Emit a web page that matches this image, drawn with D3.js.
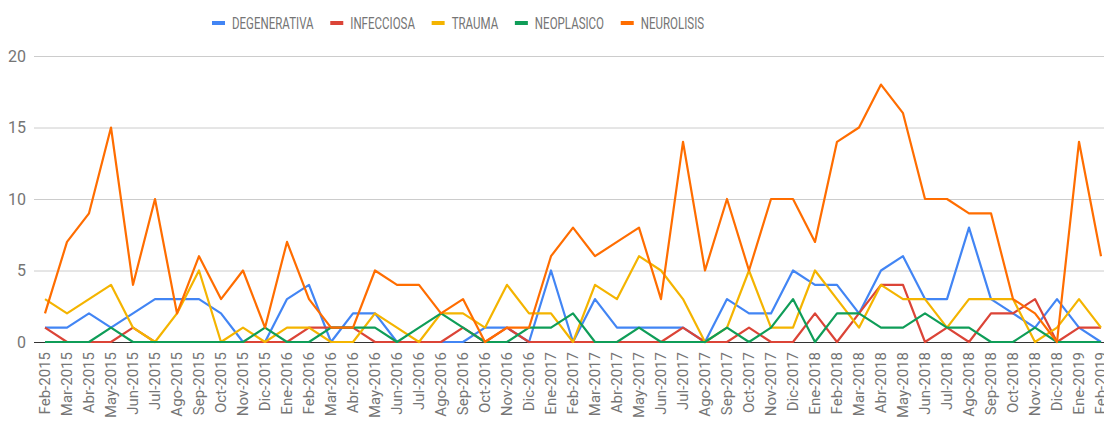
<!DOCTYPE html>
<html>
<head>
<meta charset="utf-8">
<script src="https://cdn.jsdelivr.net/npm/d3@7"></script>
<style>
  body { margin: 0; background: #fff; overflow: hidden; }
  text { font-family: Roboto, "Noto Sans", sans-serif; }
</style>
</head>
<body>
<script>
// month labels (x axis)
var months = ["Feb-2015","Mar-2015","Abr-2015","May-2015","Jun-2015","Jul-2015","Ago-2015","Sep-2015","Oct-2015","Nov-2015","Dic-2015",
  "Ene-2016","Feb-2016","Mar-2016","Abr-2016","May-2016","Jun-2016","Jul-2016","Ago-2016","Sep-2016","Oct-2016","Nov-2016","Dic-2016",
  "Ene-2017","Feb-2017","Mar-2017","Abr-2017","May-2017","Jun-2017","Jul-2017","Ago-2017","Sep-2017","Oct-2017","Nov-2017","Dic-2017",
  "Ene-2018","Feb-2018","Mar-2018","Abr-2018","May-2018","Jun-2018","Jul-2018","Ago-2018","Sep-2018","Oct-2018","Nov-2018","Dic-2018",
  "Ene-2019","Feb-2019"];

var degenerativa = [1,1,2,1,2,3,3,3,2,0,0, 3,4,0,2,2,0,0,0,0,1,1,0, 5,0,3,1,1,1,1,0,3,2,2,5, 4,4,2,5,6,3,3,8,3,2,1,3, 1,0];
var infecciosa   = [1,0,0,0,1,0,0,0,0,0,0, 0,1,1,1,0,0,0,0,1,0,1,0, 0,0,0,0,0,0,1,0,0,1,0,0, 2,0,2,4,4,0,1,0,2,2,3,0, 1,1];
var trauma       = [3,2,3,4,1,0,2,5,0,1,0, 1,1,0,0,2,1,0,2,2,1,4,2, 2,0,4,3,6,5,3,0,1,5,1,1, 5,3,1,4,3,3,1,3,3,3,0,1, 3,1];
var neoplasico   = [0,0,0,1,0,0,0,0,0,0,1, 0,0,1,1,1,0,1,2,1,0,0,1, 1,2,0,0,1,0,0,0,1,0,1,3, 0,2,2,1,1,2,1,1,0,0,1,0, 0,0];
var neurolisis   = [2,7,9,15,4,10,2,6,3,5,1, 7,3,1,1,5,4,4,2,3,0,1,1, 6,8,6,7,8,3,14,5,10,5,10,10, 7,14,15,18,16,10,10,9,9,3,2,0, 14,6];

var seriesNames = ["DEGENERATIVA", "INFECCIOSA", "TRAUMA", "NEOPLASICO", "NEUROLISIS"];
var seriesValues = [degenerativa, infecciosa, trauma, neoplasico, neurolisis];
var seriesColors = ["#4285F4", "#DB4437", "#F4B400", "#0F9D58", "#FF6D00"];
var yTicks = [0, 5, 10, 15, 20];

var width = 1104, height = 421;
var plotLeft = 34, plotTop = 56, plotBottom = 342;
var bandStep = 22;

var svg = d3.select("body").append("svg")
  .attr("width", width)
  .attr("height", height);

var x = d3.scaleBand()
  .domain(months)
  .range([plotLeft, plotLeft + bandStep * months.length])
  .padding(0);

var y = d3.scaleLinear()
  .domain([0, 20])
  .range([plotBottom, plotTop]);

function cx(m) { return x(m) + x.bandwidth() / 2; }

// gridlines + y labels
var yAxis = d3.axisLeft(y)
  .tickValues(yTicks)
  .tickSize(-(width - plotLeft + 20))
  .tickPadding(8);

var yG = svg.append("g")
  .attr("transform", "translate(" + plotLeft + ",0)")
  .call(yAxis);
yG.select(".domain").remove();
yG.selectAll(".tick line")
  .attr("stroke", "#cccccc")
  .attr("stroke-width", 1);
yG.selectAll(".tick text")
  .attr("fill", "#757575")
  .style("font-size", "16px")
  .attr("x", -8);

// baseline
svg.append("line")
  .attr("x1", plotLeft)
  .attr("x2", width + 20)
  .attr("y1", y(0) + 0.5)
  .attr("y2", y(0) + 0.5)
  .attr("stroke", "#333")
  .attr("stroke-width", 1);

// x labels
var xAxis = d3.axisBottom(x).tickSize(0).tickPadding(0);
var xG = svg.append("g")
  .attr("transform", "translate(0," + plotBottom + ")")
  .call(xAxis);
xG.select(".domain").remove();
xG.selectAll(".tick text")
  .attr("fill", "#757575")
  .style("font-size", "15px")
  .attr("text-anchor", "end")
  .attr("transform", "rotate(-90)")
  .attr("x", -10)
  .attr("y", 0)
  .attr("dy", "0.36em");

// lines
var line = d3.line()
  .x(function(d, i) { return cx(months[i]); })
  .y(function(d) { return y(d); });

svg.selectAll(".series")
  .data(seriesValues)
  .enter()
  .append("path")
    .attr("class", "series")
    .attr("fill", "none")
    .attr("stroke", function(d, i) { return seriesColors[i]; })
    .attr("stroke-width", 2.2)
    .attr("stroke-linejoin", "round")
    .attr("d", line);

// legend
var legendX = 212, legendY = 23, squeeze = 0.72;
var lg = svg.append("g");
seriesNames.forEach(function(name, i) {
  var item = lg.append("g").attr("transform", "translate(" + legendX + "," + legendY + ")");
  item.append("rect")
    .attr("x", 0)
    .attr("y", -2)
    .attr("width", 13)
    .attr("height", 4)
    .attr("fill", seriesColors[i]);
  var t = item.append("text")
    .attr("transform", "translate(20,0) scale(" + squeeze + ",1)")
    .attr("dy", "0.36em")
    .attr("fill", "#757575")
    .style("font-size", "16px")
    .text(name);
  legendX += 20 + t.node().getComputedTextLength() * squeeze + 16.7;
});
</script>
</body>
</html>
